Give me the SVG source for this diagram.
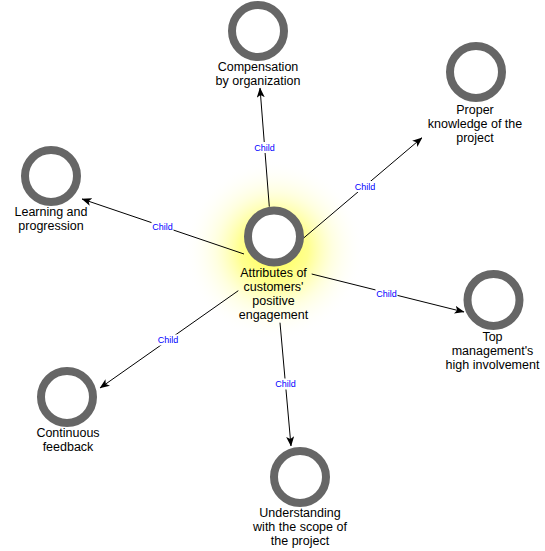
<svg xmlns="http://www.w3.org/2000/svg" width="545" height="551" viewBox="0 0 545 551">
<defs>
<radialGradient id="glow" cx="274" cy="250" r="90" gradientUnits="userSpaceOnUse">
<stop offset="0" stop-color="#ffff40" stop-opacity="0.95"/>
<stop offset="0.38" stop-color="#ffff60" stop-opacity="0.7"/>
<stop offset="0.65" stop-color="#ffffa8" stop-opacity="0.35"/>
<stop offset="1" stop-color="#ffffff" stop-opacity="0"/>
</radialGradient>
<marker id="arr" viewBox="0 0 10 8" markerWidth="10" markerHeight="8" refX="9.5" refY="4" orient="auto" markerUnits="userSpaceOnUse">
<path d="M0,0 L10,4 L0,8 L2.5,4 Z" fill="#000"/>
</marker>
<style>
.ring{fill:#fff;stroke:#666;stroke-width:8}
.lbl{font-family:"Liberation Sans",Arial,sans-serif;font-size:12.5px;fill:#000;text-anchor:middle}
.edge{stroke:#000;stroke-width:1;fill:none;marker-end:url(#arr)}
.elbl{font-family:"Liberation Sans",Arial,sans-serif;font-size:9px;fill:#0000ff;text-anchor:middle}
.ebg{fill:#fff}
</style>
</defs>
<rect width="545" height="551" fill="#fff"/>
<circle cx="274" cy="250" r="90" fill="url(#glow)"/>
<g id="connectors">
<line class="edge" x1="269.3" y1="206.7" x2="260" y2="88"/>
<line class="edge" x1="303.3" y1="238.3" x2="422" y2="137.7"/>
<line class="edge" x1="244" y1="254" x2="82" y2="199"/>
<line class="edge" x1="311.7" y1="274" x2="464" y2="312"/>
<line class="edge" x1="238.3" y1="290.7" x2="100" y2="388"/>
<line class="edge" x1="280" y1="322.7" x2="291" y2="446"/>
<rect class="ebg" x="253.5" y="142" width="22" height="11"/><text class="elbl" x="264.5" y="150.5">Child</text>
<rect class="ebg" x="354" y="181" width="22" height="11"/><text class="elbl" x="365" y="189.5">Child</text>
<rect class="ebg" x="151.5" y="221" width="22" height="11"/><text class="elbl" x="162.5" y="229.5">Child</text>
<rect class="ebg" x="375.5" y="288" width="22" height="11"/><text class="elbl" x="386.5" y="296.5">Child</text>
<rect class="ebg" x="157" y="334.5" width="22" height="11"/><text class="elbl" x="168" y="343">Child</text>
<rect class="ebg" x="274.5" y="378.5" width="22" height="11"/><text class="elbl" x="285.5" y="387">Child</text>
</g>
<g id="center">
<circle class="ring" cx="274" cy="236.5" r="26"/>
<text class="lbl" x="273.5" y="277">Attributes of</text>
<text class="lbl" x="273.5" y="291">customers'</text>
<text class="lbl" x="273.5" y="305">positive</text>
<text class="lbl" x="273.5" y="319">engagement</text>
</g>
<g id="compensation">
<circle class="ring" cx="258" cy="31" r="26"/>
<text class="lbl" x="258" y="71">Compensation</text>
<text class="lbl" x="258" y="85">by organization</text>
</g>
<g id="proper-knowledge">
<circle class="ring" cx="476" cy="72" r="26"/>
<text class="lbl" x="475" y="114">Proper</text>
<text class="lbl" x="475" y="128">knowledge of the</text>
<text class="lbl" x="475" y="142">project</text>
</g>
<g id="learning">
<circle class="ring" cx="51" cy="176" r="26"/>
<text class="lbl" x="51" y="216">Learning and</text>
<text class="lbl" x="51" y="230">progression</text>
</g>
<g id="top-management">
<circle class="ring" cx="493.5" cy="300" r="26"/>
<text class="lbl" x="492.5" y="341">Top</text>
<text class="lbl" x="492.5" y="355">management's</text>
<text class="lbl" x="492.5" y="369">high involvement</text>
</g>
<g id="continuous-feedback">
<circle class="ring" cx="67" cy="397" r="26"/>
<text class="lbl" x="68" y="437">Continuous</text>
<text class="lbl" x="68" y="451">feedback</text>
</g>
<g id="understanding">
<circle class="ring" cx="300" cy="477" r="26"/>
<text class="lbl" x="300" y="517">Understanding</text>
<text class="lbl" x="300" y="531">with the scope of</text>
<text class="lbl" x="300" y="545">the project</text>
</g>
</svg>
